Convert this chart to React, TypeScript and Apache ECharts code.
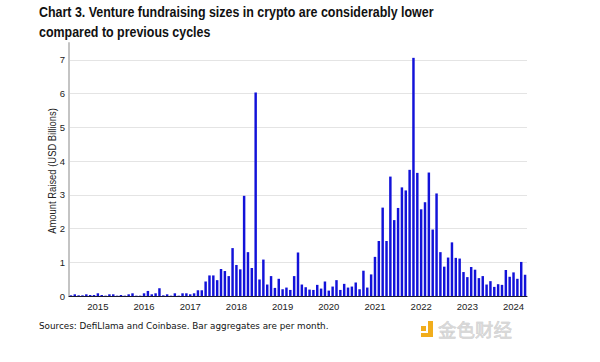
import React, { useEffect, useRef } from 'react';
import * as echarts from 'echarts';

// Monthly venture fundraising, USD billions (Jun 2014 – Apr 2024)
const values2014 = [0.02, 0.05, 0.02, 0.02, 0.05, 0.03, 0.03]; // Jun–Dec
const values2015 = [0.08, 0.03, 0.01, 0.05, 0.05, 0.01, 0.03, 0.01, 0.05, 0.08, 0.01, 0.01];
const values2016 = [0.08, 0.15, 0.05, 0.08, 0.23, 0.02, 0.05, 0.01, 0.08, 0.01, 0.08, 0.08];
const values2017 = [0.05, 0.08, 0.17, 0.17, 0.43, 0.61, 0.61, 0.47, 0.8, 0.74, 0.59, 1.42];
const values2018 = [0.92, 0.79, 2.97, 1.3, 0.83, 6.03, 0.49, 1.08, 0.34, 0.59, 0.24, 0.51];
const values2019 = [0.2, 0.25, 0.18, 0.59, 1.29, 0.34, 0.26, 0.19, 0.18, 0.33, 0.22, 0.43];
const values2020 = [0.16, 0.28, 0.47, 0.18, 0.36, 0.25, 0.28, 0.4, 0.2, 0.75, 0.25, 0.64];
const values2021 = [1.16, 1.63, 2.62, 1.63, 3.54, 2.25, 2.61, 3.22, 3.13, 3.74, 7.06, 3.65];
const values2022 = [2.57, 2.78, 3.66, 1.97, 3.04, 1.3, 0.87, 1.14, 1.59, 1.13, 1.11, 0.71];
const values2023 = [0.56, 0.86, 0.78, 0.53, 0.59, 0.34, 0.44, 0.27, 0.35, 0.33, 0.77, 0.57];
const values2024 = [0.7, 0.51, 1.01, 0.63]; // Jan–Apr

const yearlySeries: [number, number, number[]][] = [
  [2014, 6, values2014],
  [2015, 1, values2015],
  [2016, 1, values2016],
  [2017, 1, values2017],
  [2018, 1, values2018],
  [2019, 1, values2019],
  [2020, 1, values2020],
  [2021, 1, values2021],
  [2022, 1, values2022],
  [2023, 1, values2023],
  [2024, 1, values2024],
];

const categories: string[] = [];
const values: number[] = [];
yearlySeries.forEach(([year, firstMonth, vals]) => {
  vals.forEach((v, i) => {
    const m = firstMonth + i;
    categories.push(`${year}-${m < 10 ? '0' + m : m}`);
    values.push(v);
  });
});

const titleLines = [
  'Chart 3. Venture fundraising sizes in crypto are considerably lower',
  'compared to previous cycles',
];
const yAxisName = 'Amount Raised (USD Billions)';
const sourceNote = 'Sources: DefiLlama and Coinbase. Bar aggregates are per month.';
const watermark = '金色财经';

const SANS = "'Liberation Sans', Arial, Helvetica, sans-serif";

export default function App() {
  const ref = useRef<HTMLDivElement>(null);
  useEffect(() => {
    if (!ref.current) return;
    const chart = echarts.init(ref.current, null, { renderer: 'svg' });
    chart.setOption({
      animation: false,
      backgroundColor: '#ffffff',
      grid: { left: 69, right: 73, top: 43, bottom: 66, containLabel: false },
      xAxis: {
        type: 'category',
        data: categories,
        boundaryGap: true,
        axisLine: { show: true, lineStyle: { color: '#1a1a2e', width: 1 } },
        axisTick: { show: false },
        axisLabel: {
          interval: (_idx: number, val: string) => val.endsWith('-01'),
          formatter: (val: string) => val.slice(0, 4),
          fontFamily: SANS,
          fontSize: 9.5,
          color: '#222222',
          margin: 5,
        },
        splitLine: { show: false },
      },
      yAxis: {
        type: 'value',
        min: 0,
        max: 7.5,
        interval: 1,
        axisLine: { show: true, lineStyle: { color: '#c4c4c4', width: 2 } },
        axisTick: { show: false },
        axisLabel: {
          fontFamily: SANS,
          fontSize: 9.5,
          color: '#222222',
          margin: 4,
          showMaxLabel: false,
          formatter: (v: number) => (Number.isInteger(v) ? String(v) : ''),
        },
        splitLine: {
          show: true,
          showMaxLine: false,
          showMinLine: false,
          lineStyle: { color: '#e4e4e4', width: 1 },
        },
      },
      series: [
        {
          type: 'bar',
          data: values,
          barWidth: '64%',
          itemStyle: { color: '#1212d9' },
        },
      ],
      graphic: [
        {
          type: 'text',
          x: 39,
          y: 5,
          scaleX: 0.83,
          style: {
            text: titleLines[0],
            fontFamily: SANS,
            fontSize: 15,
            fontWeight: 'bold',
            fill: '#111111',
            align: 'left',
            verticalAlign: 'top',
          },
        },
        {
          type: 'text',
          x: 39,
          y: 25,
          scaleX: 0.83,
          style: {
            text: titleLines[1],
            fontFamily: SANS,
            fontSize: 15,
            fontWeight: 'bold',
            fill: '#111111',
            align: 'left',
            verticalAlign: 'top',
          },
        },
        {
          type: 'text',
          x: 52,
          y: 171,
          rotation: Math.PI / 2,
          scaleX: 0.82,
          style: {
            text: yAxisName,
            fontFamily: SANS,
            fontSize: 11.5,
            fill: '#222222',
            align: 'center',
            verticalAlign: 'middle',
          },
        },
        {
          type: 'text',
          x: 39,
          y: 326,
          style: {
            text: sourceNote,
            fontFamily: "'DejaVu Sans', Verdana, sans-serif",
            fontSize: 8.8,
            fill: '#111111',
            align: 'left',
            verticalAlign: 'middle',
          },
        },
        {
          type: 'group',
          x: 421,
          y: 321,
          children: [
            { type: 'rect', shape: { x: 0, y: 5, width: 5, height: 5 }, style: { fill: '#f1ad1c' } },
            { type: 'rect', shape: { x: 7, y: 0, width: 5, height: 16 }, style: { fill: '#f1ad1c' } },
            { type: 'rect', shape: { x: 0, y: 12, width: 12, height: 4 }, style: { fill: '#f1ad1c' } },
          ],
        },
        {
          type: 'text',
          x: 438,
          y: 329,
          style: {
            text: watermark,
            fontFamily: "'Noto Sans CJK SC', sans-serif",
            fontSize: 18.5,
            fill: '#d8d8d8',
            stroke: '#c2c2c2',
            lineWidth: 0.5,
            align: 'left',
            verticalAlign: 'middle',
          },
        },
      ],
    });
    return () => chart.dispose();
  }, []);
  return (
    <div
      ref={ref}
      style={{ position: 'absolute', left: 0, top: 0, width: 600, height: 362 }}
    />
  );
}
